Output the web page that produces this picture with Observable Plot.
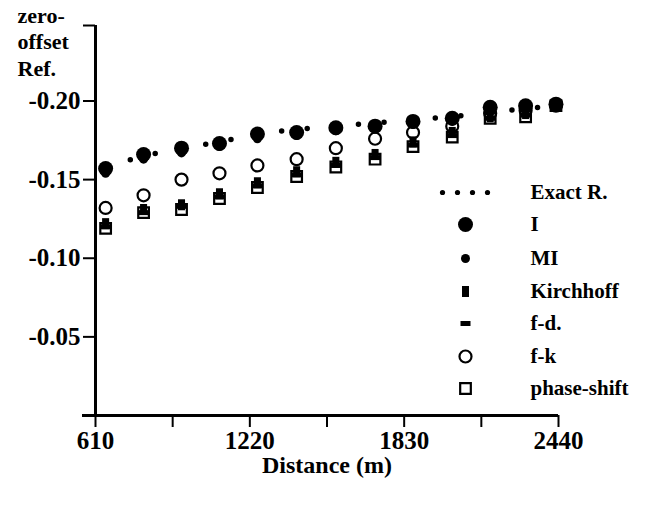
<!DOCTYPE html>
<html>
<head>
<meta charset="utf-8">
<script src="https://cdn.jsdelivr.net/npm/d3@7"></script>
<script src="https://cdn.jsdelivr.net/npm/@observablehq/plot@0.6"></script>
<style>
  html, body { margin: 0; padding: 0; background: white; }
</style>
</head>
<body>
<div id="chart"></div>
<script>
// ---- data ----
const distance   = [650, 800, 950, 1100, 1250, 1405, 1560, 1715, 1865, 2020, 2170, 2310, 2430];
const exactR     = [-0.158, -0.165, -0.170, -0.174, -0.179, -0.182, -0.184, -0.186, -0.188, -0.190, -0.193, -0.195, -0.197];
const seriesI    = [-0.157, -0.166, -0.170, -0.173, -0.179, -0.180, -0.183, -0.184, -0.187, -0.189, -0.196, -0.197, -0.198];
const seriesMI   = [-0.154, -0.163, -0.167, -0.171, -0.176, -0.178, -0.181, -0.183, -0.185, -0.187, -0.193, -0.195, -0.197];
const kirchhoff  = [-0.122, -0.131, -0.134, -0.141, -0.148, -0.155, -0.161, -0.166, -0.174, -0.180, -0.190, -0.192, -0.198];
const fd         = [-0.120, -0.129, -0.133, -0.139, -0.146, -0.153, -0.159, -0.164, -0.172, -0.178, -0.189, -0.191, -0.198];
const fk         = [-0.132, -0.140, -0.150, -0.154, -0.159, -0.163, -0.170, -0.176, -0.180, -0.184, -0.192, -0.194, -0.197];
const phaseShift = [-0.119, -0.129, -0.131, -0.138, -0.145, -0.152, -0.158, -0.163, -0.171, -0.177, -0.189, -0.190, -0.197];

const xTicks  = [610, 915, 1220, 1525, 1830, 2135, 2440];
const xLabels = [610, 1220, 1830, 2440];
const yTicks  = [-0.05, -0.10, -0.15, -0.20];
const yTop    = -0.248;
const legendNames = ["Exact R.", "I", "MI", "Kirchhoff", "f-d.", "f-k", "phase-shift"];
const yLabel = "zero-\noffset\nRef.";
const xLabel = "Distance (m)";

// ---- helpers ----
const FONT = "Liberation Serif, Tinos, DejaVu Serif, serif";
const toRows = (vals) => distance.map((d, i) => ({x: d, y: vals[i]}));
const rectSymbol = (hw, hh) => ({
  draw(ctx, size) {
    const r = Math.sqrt(size / Math.PI);
    ctx.moveTo(-hw * r, -hh * r);
    ctx.lineTo(hw * r, -hh * r);
    ctx.lineTo(hw * r, hh * r);
    ctx.lineTo(-hw * r, hh * r);
    ctx.closePath();
  }
});
const kirchSym = rectSymbol(0.64, 1.0);
const fdSym = rectSymbol(1.0, 0.5);

const styles = {
  exact: {stroke: "black", strokeWidth: 5.5, strokeDasharray: "0 25.7", strokeLinecap: "round"},
  I: {symbol: "circle", r: 7.5, fill: "black"},
  MI: {symbol: "circle", r: 4.5, fill: "black"},
  kirch: {symbol: kirchSym, r: 5.5, fill: "black"},
  fd: {symbol: fdSym, r: 5, fill: "black"},
  fk: {symbol: "circle", r: 6, fill: "none", stroke: "black", strokeWidth: 2.2},
  ps: {symbol: "square", r: 6, fill: "none", stroke: "black", strokeWidth: 2.2}
};
const txt = (fs) => ({fill: "black", fontFamily: FONT, fontWeight: "bold", fontSize: fs});

// legend geometry (offsets from the top-left of the frame)
const legSymX = 370, legTextX = 435;
const legRowY = [167, 199, 233, 266, 298, 331, 363];
const legendKeys = ["exact", "I", "MI", "kirch", "fd", "fk", "ps"];

const legendMarks = [];
legendKeys.forEach((k, i) => {
  if (k === "exact") {
    [0, 1, 2, 3].forEach(j => legendMarks.push(
      Plot.dot([0], {frameAnchor: "top-left", dx: legSymX - 23 + 15 * j, dy: legRowY[i], r: 2.6, fill: "black"})
    ));
  } else {
    const s = styles[k];
    legendMarks.push(Plot.dot([0], {frameAnchor: "top-left", dx: legSymX, dy: legRowY[i], ...s}));
  }
  legendMarks.push(Plot.text([legendNames[i]], {
    frameAnchor: "top-left", dx: legTextX, dy: legRowY[i], textAnchor: "start", lineAnchor: "middle", ...txt(21)
  }));
});

const chart = Plot.plot({
  width: 666,
  height: 510,
  marginLeft: 95,
  marginRight: 108,
  marginTop: 25,
  marginBottom: 95,
  style: {fontFamily: FONT, fontWeight: "bold", fontSize: "22px", color: "black", background: "white", overflow: "visible"},
  x: {domain: [610, 2440]},
  y: {domain: [0, yTop]},
  marks: [
    Plot.ruleY([0], {stroke: "black", strokeWidth: 3, insetLeft: -13}),
    Plot.ruleX([610], {y1: 0, y2: yTop, stroke: "black", strokeWidth: 3}),
    Plot.axisX({ticks: xTicks, tickSize: 12, tickPadding: 4, strokeWidth: 2,
      tickFormat: d => xLabels.includes(d) ? String(d) : "", label: null, ...txt(25)}),
    Plot.axisY({ticks: [...yTicks, yTop], tickSize: 12, tickPadding: 3, strokeWidth: 2,
      tickFormat: d => d === yTop ? "" : d.toFixed(2), label: null, ...txt(25)}),
    Plot.text([yLabel], {frameAnchor: "top-left", dx: -78, dy: -22, textAnchor: "start", lineAnchor: "top", lineHeight: 1.22, ...txt(22)}),
    Plot.text([xLabel], {frameAnchor: "bottom", dy: 50, lineAnchor: "middle", ...txt(24)}),
    // data
    Plot.dot(toRows(phaseShift), {x: "x", y: "y", ...styles.ps}),
    Plot.dot(toRows(fd), {x: "x", y: "y", ...styles.fd}),
    Plot.dot(toRows(kirchhoff), {x: "x", y: "y", ...styles.kirch}),
    Plot.dot(toRows(fk), {x: "x", y: "y", ...styles.fk}),
    Plot.line(toRows(exactR), {x: "x", y: "y", ...styles.exact}),
    Plot.dot(toRows(seriesMI), {x: "x", y: "y", ...styles.MI}),
    Plot.dot(toRows(seriesI), {x: "x", y: "y", ...styles.I}),
    ...legendMarks
  ]
});
document.getElementById("chart").appendChild(chart);
</script>
</body>
</html>
